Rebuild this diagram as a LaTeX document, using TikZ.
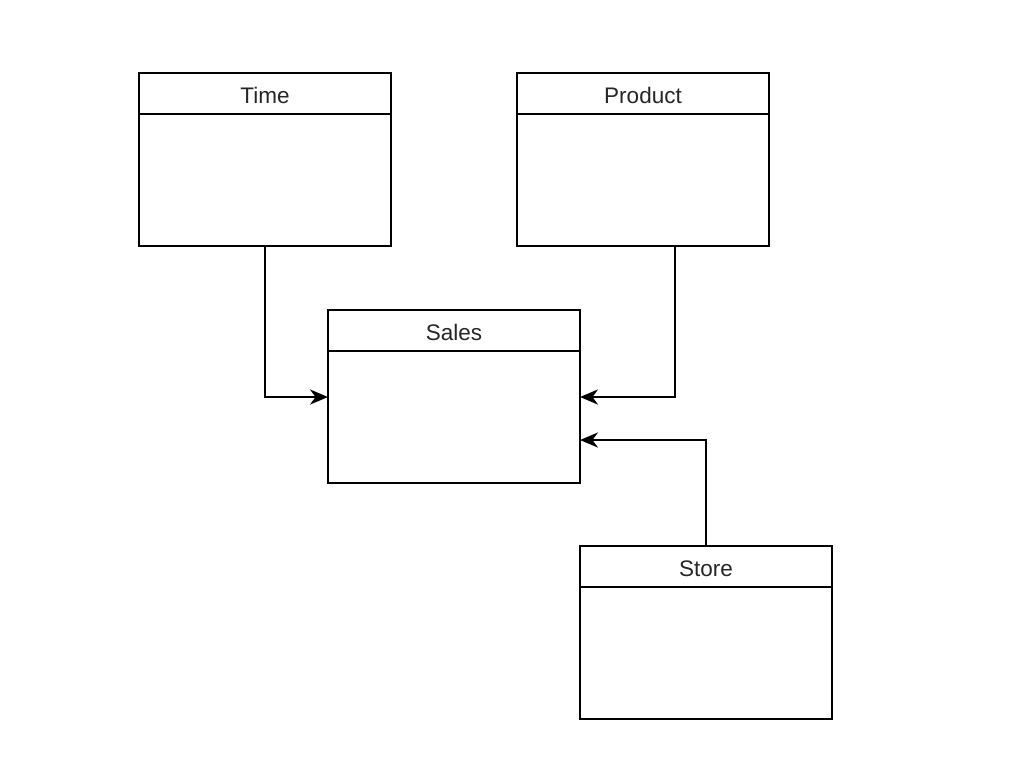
\documentclass[tikz,border=0pt]{standalone}
\usepackage{fontspec}
\setmainfont{Liberation Sans}
\usetikzlibrary{arrows.meta}

\tikzset{
  tablehead/.style={draw, line width=1pt, minimum width=6.3cm, minimum height=1.025cm,
    inner sep=0pt, outer sep=0pt, text height=1.36em, text depth=0pt,
    text=black!85, font=\fontsize{16}{18}\selectfont},
  tablebody/.style={draw, line width=1pt, minimum width=6.3cm, minimum height=3.3cm,
    inner sep=0pt, outer sep=0pt, anchor=north},
  link/.style={line width=1pt, -{Stealth[length=4.5mm,width=3.8mm,inset=1.4mm]}}
}

\begin{document}
\begin{tikzpicture}[x=0.025cm,y=-0.025cm]
          \useasboundingbox (0,0) rectangle (1010,782);
          % dimension tables
          \node[tablehead] (timehead) at (265,93.5) {Time};
          \node[tablebody] (timebody) at (timehead.south) {};
          \node[tablehead] (producthead) at (643,93.5) {Product};
          \node[tablebody] (productbody) at (producthead.south) {};
          \node[tablehead] (storehead) at (706,566.5) {Store};
          \node[tablebody] (storebody) at (storehead.south) {};
          % fact table
          \node[tablehead] (saleshead) at (454,330.5) {Sales};
          \node[tablebody] (salesbody) at (saleshead.south) {};
          % links
          \draw[link] (timebody.south) |- ([yshift=0.5cm]salesbody.west);
          \draw[link] ([xshift=0.8cm]productbody.south) |- ([yshift=0.5cm]salesbody.east);
          \draw[link] (storehead.north) |- ([yshift=-0.575cm]salesbody.east);
        \end{tikzpicture}
\end{document}
